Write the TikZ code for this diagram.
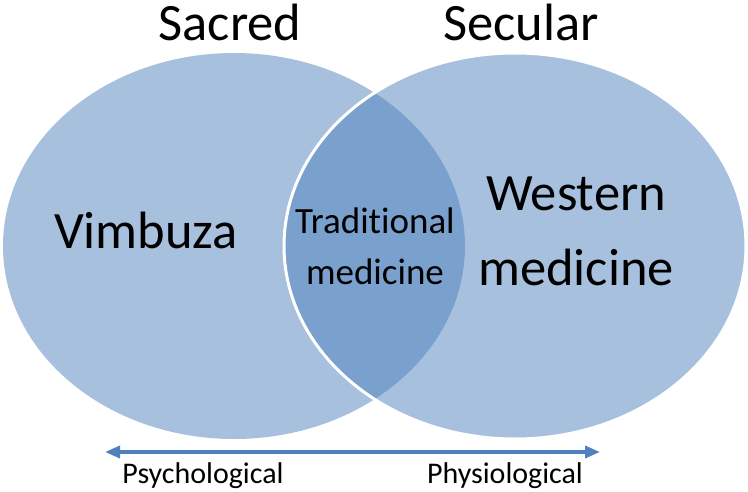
\documentclass[tikz,border=0pt]{standalone}
\usepackage{fontspec}
\setmainfont[Ligatures=NoCommon]{Carlito}
\usepackage{tikz}
\usetikzlibrary{shapes.geometric,arrows.meta,positioning,calc}
\definecolor{vennblue}{RGB}{79,129,189}

\begin{document}
\begin{tikzpicture}[x=1pt, y=-1pt, >={Triangle[length=15pt,width=12pt]}]
\tikzstyle{venn}=[ellipse, fill=vennblue, fill opacity=0.5, inner sep=0, minimum width=462pt, minimum height=386pt]
\tikzstyle{big}=[font=\fontsize{52.5}{60}\selectfont, text=black, anchor=base, inner sep=0]
\tikzstyle{mid}=[font=\fontsize{37}{42}\selectfont, text=black, anchor=base, inner sep=0]
\tikzstyle{small}=[font=\fontsize{30}{34}\selectfont, text=black, anchor=base, inner sep=0]
\useasboundingbox (0,0) rectangle (748,491);
% the two circles
\node[venn]                                   (sacred)  at (234,246) {};
\node[venn, draw=white, draw opacity=1, line width=3pt] (secular) at (515,246) {};
% headings
\node[big]  (sacredlbl)  at (230,40)  {Sacred};
\node[big]  (secularlbl) at (521,40)  {Secular};
% inside
\node[big]  (vimbuza)    at (146,248) {Vimbuza};
\node[big]  (western)    at (576,210) {Western};
\node[big]  (westmed)    at (576,285) {medicine};
\node[mid]  (trad)       at (375,233) {Traditional};
\node[mid]  (tradmed)    at (375,284) {medicine};
% scale underneath
\coordinate (psy)  at (105,452);
\coordinate (phy)  at (600,452);
\draw[<->, line width=3.5pt, vennblue] (psy) -- (phy);
\node[small] (psylbl) at (203,483) {Psychological};
\node[small] (phylbl) at (505,483) {Physiological};
\end{tikzpicture}
\end{document}
